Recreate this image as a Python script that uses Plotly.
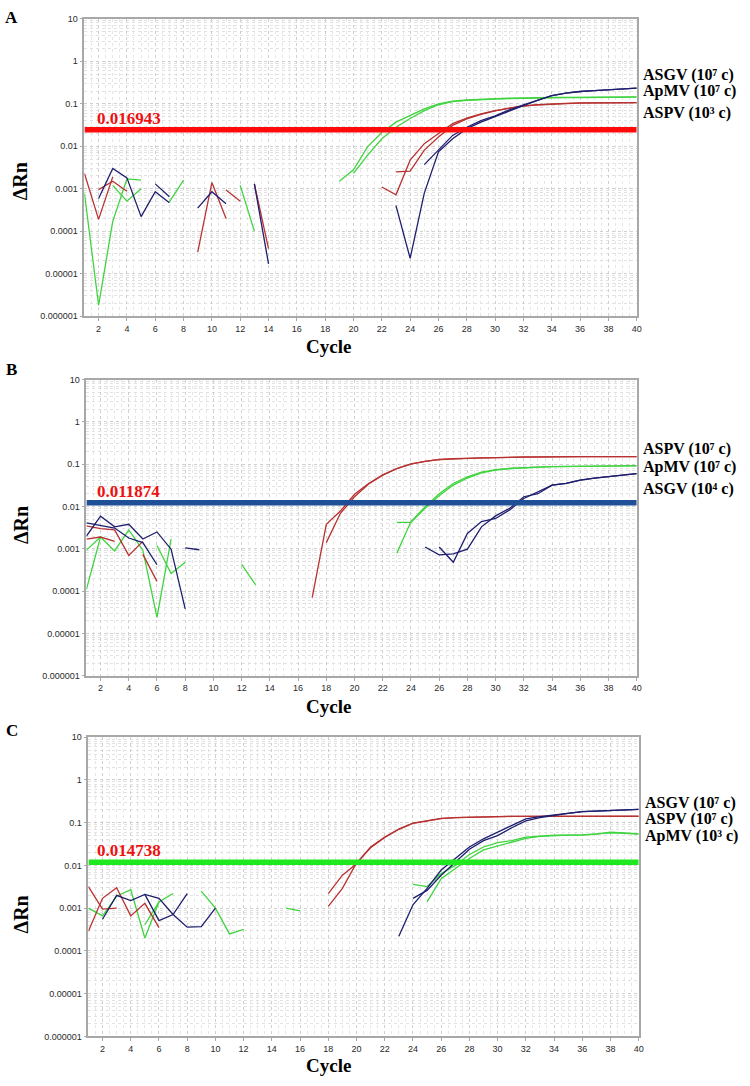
import plotly.graph_objects as go

W, H = 750, 1086

# ---------------- DATA (cycle start, ΔRn values) ----------------
# Panel A
A_ASGV = [(2, [0.00059, 0.003, 0.0018, 0.00022, 0.00085, 0.00047]),
          (6, [0.0013, 0.00065]),
          (9, [0.00035, 0.00085, 0.00044]),
          (13, [0.0013, 1.7e-5]),
          (23, [0.0004, 2.3e-5, 0.00079, 0.0074, 0.015, 0.026, 0.037, 0.05, 0.069, 0.091,
                0.12, 0.155, 0.178, 0.195, 0.204, 0.214, 0.224, 0.234]),
          (25, [0.0037, 0.0081, 0.018, 0.028, 0.04, 0.052, 0.072, 0.095, 0.123, 0.155,
                0.178, 0.195, 0.204, 0.214, 0.224, 0.234])]
A_ApMV = [(1, [0.00078, 1.8e-6, 0.00017, 0.0017, 0.0016]),
          (3, [0.0012, 0.00051, 0.001]),
          (7, [0.00049, 0.0016]),
          (12, [0.0012, 0.0001]),
          (19, [0.0015, 0.0028, 0.0098, 0.021, 0.037, 0.052, 0.076, 0.1, 0.115, 0.123, 0.129,
                0.132, 0.135, 0.138, 0.138, 0.141, 0.141, 0.141, 0.145, 0.145, 0.145, 0.145]),
          (20, [0.0023, 0.0062, 0.015, 0.028, 0.045, 0.069, 0.095, 0.112, 0.12, 0.126, 0.129,
                0.132, 0.135, 0.137, 0.138, 0.14, 0.14, 0.141, 0.142, 0.142, 0.143])]
A_ASPV = [(1, [0.0023, 0.00019, 0.0019]),
          (2, [0.00095, 0.0015, 0.00087]),
          (9, [3.2e-5, 0.0014, 0.0002]),
          (11, [0.00093, 0.00051]),
          (13, [0.0013, 3.9e-5]),
          (22, [0.0011, 0.00072, 0.0047, 0.0115, 0.02, 0.034, 0.046, 0.058, 0.069, 0.079,
                0.089, 0.095, 0.1, 0.102, 0.105, 0.105, 0.107, 0.107, 0.107]),
          (23, [0.0025, 0.0026, 0.0081, 0.0166, 0.031, 0.044, 0.056, 0.068, 0.079, 0.088,
                0.094, 0.099, 0.101, 0.104, 0.105, 0.106, 0.106, 0.107])]

# Panel B
B_ASGV = [(1, [0.002, 0.0059, 0.0033, 0.0038, 0.0017, 0.0025, 0.00098, 3.8e-5]),
          (1, [0.0041, 0.0035, 0.0031, 0.0018, 0.0014, 0.00042]),
          (8, [0.00105, 0.00095]),
          (25, [0.0011, 0.00072, 0.00076, 0.00098, 0.0033, 0.006, 0.0091, 0.017, 0.02, 0.032,
                0.035, 0.042, 0.047, 0.05, 0.055, 0.06]),
          (26, [0.0011, 0.00048, 0.0023, 0.0044, 0.0052, 0.0083, 0.0155, 0.022, 0.032, 0.035,
                0.042, 0.047, 0.05, 0.055, 0.06])]
B_ApMV = [(1, [0.00011, 0.0019, 0.00089, 0.0028, 0.00093, 2.4e-5, 0.0017]),
          (1, [0.00093, 0.0019]),
          (6, [0.0012, 0.00026, 0.00048]),
          (12, [0.00043, 0.00014]),
          (23, [0.00079, 0.0044, 0.0098, 0.02, 0.035, 0.05, 0.065, 0.074, 0.079, 0.083, 0.085,
                0.087, 0.089, 0.089, 0.089, 0.091, 0.091, 0.091]),
          (23, [0.0042, 0.0042, 0.0091, 0.018, 0.032, 0.047, 0.062, 0.072, 0.079, 0.083, 0.085,
                0.087, 0.088, 0.089, 0.09, 0.09, 0.091, 0.092])]
B_ASPV = [(1, [0.0017, 0.0019, 0.0015]),
          (1, [0.0035, 0.003, 0.0028, 0.0007, 0.0015]),
          (5, [0.00074, 0.00017]),
          (17, [7e-5, 0.0038, 0.0078, 0.0195, 0.035, 0.056, 0.079, 0.102, 0.117, 0.129, 0.135,
                0.138, 0.141, 0.144, 0.144, 0.148, 0.148, 0.151, 0.148, 0.151, 0.151, 0.151,
                0.151, 0.151]),
          (18, [0.0014, 0.0069, 0.017, 0.034, 0.055, 0.078, 0.1, 0.116, 0.128, 0.134, 0.138,
                0.141, 0.143, 0.145, 0.147, 0.149, 0.15, 0.149, 0.15, 0.151, 0.15, 0.15, 0.15])]

# Panel C
C_ASGV = [(2, [0.00055, 0.002, 0.0015, 0.0021, 0.0017, 0.00071, 0.00036, 0.00037, 0.001]),
          (5, [0.0021, 0.00051, 0.00071, 0.0022]),
          (23, [0.00022, 0.0012, 0.0029, 0.0078, 0.0145, 0.027, 0.042, 0.06, 0.087, 0.123,
                0.138, 0.151, 0.166, 0.182, 0.186, 0.19, 0.2, 0.204]),
          (24, [0.0017, 0.0026, 0.0059, 0.012, 0.024, 0.038, 0.05, 0.076, 0.11, 0.132, 0.151,
                0.166, 0.182, 0.186, 0.19, 0.2, 0.204])]
C_ApMV = [(1, [0.001, 0.00066, 0.0019, 0.0027, 0.0002, 0.0014, 0.0022]),
          (5, [0.00041, 0.0014]),
          (9, [0.0025, 0.001, 0.00025, 0.00032]),
          (15, [0.001, 0.00087]),
          (24, [0.0036, 0.0032, 0.0065, 0.01, 0.018, 0.027, 0.034, 0.038, 0.046, 0.049, 0.051,
                0.051, 0.051, 0.054, 0.06, 0.058, 0.055]),
          (25, [0.0014, 0.0049, 0.0085, 0.0145, 0.023, 0.028, 0.035, 0.043, 0.048, 0.05, 0.051,
                0.052, 0.055, 0.058, 0.056, 0.054])]
C_ASPV = [(1, [0.0032, 0.00095, 0.001]),
          (1, [0.00029, 0.0017, 0.003, 0.00066, 0.0013, 0.00035]),
          (18, [0.0022, 0.0059, 0.011, 0.027, 0.046, 0.071, 0.098, 0.112, 0.126, 0.132, 0.135,
                0.138, 0.14, 0.14, 0.141, 0.141, 0.142, 0.142, 0.142, 0.142, 0.143, 0.143, 0.143]),
          (18, [0.0011, 0.0029, 0.0115, 0.026, 0.045, 0.07, 0.097, 0.111, 0.125, 0.131, 0.135,
                0.137, 0.139, 0.14, 0.14, 0.14, 0.14, 0.14, 0.14, 0.14, 0.14, 0.14, 0.14])]

# thresholds: drawn position and printed value
threshold_pos = [0.0245, 0.0122, 0.0119]
threshold_text = ["0.016943", "0.011874", "0.014738"]

# right-side labels per panel (top to bottom)
A_labels = ["ASGV (10⁷ c)", "ApMV (10⁷ c)", "ASPV (10³ c)"]
B_labels = ["ASPV (10⁷ c)", "ApMV (10⁷ c)", "ASGV (10⁴ c)"]
C_labels = ["ASGV (10⁷ c)", "ASPV (10⁷ c)", "ApMV (10³ c)"]

panel_letters = ["A", "B", "C"]
x_ticks = list(range(2, 41, 2))
y_tickvals = [1e-6, 1e-5, 1e-4, 1e-3, 1e-2, 1e-1, 1, 10]
y_ticktext = ["0.000001", "0.00001", "0.0001", "0.001", "0.01", "0.1", "1", "10"]

# ---------------- STYLE / LAYOUT ----------------
COL_ASGV = "#1e1e6e"
COL_ApMV = "#3fd43f"
COL_ASPV = "#b83232"
thr_colors = ["#ff0a0a", "#1f4f96", "#1ee81e"]

# panel pixel boxes: left, right, top, bottom
boxes = [(85, 641, 14, 314), (87, 641, 378, 677), (89, 643, 739, 1041)]
label_y = [(71, 87, 109), (448, 466, 488), (805, 822, 839)]
label_x = [645, 645, 647]
thr_label_y = [115, 491, 853]
ylab_y = [178, 525, 918]
cycle_y = [345, 708, 1070]
letter_y = [13, 368, 732]

def px(x, y):
    return x / W, 1 - y / H

fig = go.Figure()
panels = [(A_ASGV, A_ApMV, A_ASPV, A_labels),
          (B_ASGV, B_ApMV, B_ASPV, B_labels),
          (C_ASGV, C_ApMV, C_ASPV, C_labels)]

annotations = []
for i, (sg, ap, sp, labels) in enumerate(panels):
    sfx = "" if i == 0 else str(i + 1)
    xa, ya = "x" + sfx, "y" + sfx
    for segs, col in ((ap, COL_ApMV), (sp, COL_ASPV), (sg, COL_ASGV)):
        for start, vals in segs:
            fig.add_trace(go.Scatter(
                x=list(range(start, start + len(vals))), y=vals, mode="lines",
                line=dict(color=col, width=1.3), xaxis=xa, yaxis=ya,
                showlegend=False, hoverinfo="skip"))
    fig.add_trace(go.Scatter(
        x=[1, 40], y=[threshold_pos[i]] * 2, mode="lines",
        line=dict(color=thr_colors[i], width=5.5), xaxis=xa, yaxis=ya,
        showlegend=False, hoverinfo="skip", cliponaxis=False))

    l, r, t, b = boxes[i]
    grid = dict(showgrid=True, gridcolor="#d0d0d0", griddash="dot", gridwidth=1,
                showline=True, linecolor="#a8a8a8", linewidth=1.5, mirror=True,
                ticks="outside", ticklen=3, tickcolor="#a8a8a8", zeroline=False,
                tickfont=dict(family="Liberation Sans, Arial", size=9, color="#2a2a2a"))
    fig.layout["xaxis" + sfx] = dict(
        domain=[l / W, r / W], anchor=ya, range=[1, 40],
        tickmode="array", tickvals=x_ticks,
        minor=dict(showgrid=True, gridcolor="#e6e6e6", griddash="dot", dtick=0.5, ticks=""),
        **grid)
    fig.layout["yaxis" + sfx] = dict(
        domain=[1 - b / H, 1 - t / H], anchor=xa, type="log", range=[-6, 1],
        tickmode="array", tickvals=y_tickvals, ticktext=y_ticktext,
        minor=dict(showgrid=True, gridcolor="#e2e2e2", griddash="dot", dtick="D1", ticks=""),
        **grid)

    serif = dict(family="Liberation Serif, Times New Roman", color="black")
    # right labels
    for txt, yy in zip(labels, label_y[i]):
        x0, y0 = px(label_x[i], yy)
        annotations.append(dict(text="<b>" + txt + "</b>", x=x0, y=y0, xref="paper", yref="paper",
                                xanchor="left", yanchor="middle", showarrow=False,
                                font=dict(size=16, **serif)))
    # threshold label
    x0, y0 = px(96, thr_label_y[i])
    annotations.append(dict(text="<b>" + threshold_text[i] + "</b>", x=x0, y=y0, xref="paper",
                            yref="paper", xanchor="left", yanchor="middle", showarrow=False,
                            font=dict(size=17, family="Liberation Serif, Times New Roman",
                                      color="#ee1111")))
    # y title
    x0, y0 = px(21, ylab_y[i])
    annotations.append(dict(text="<b>ΔRn</b>", x=x0, y=y0, xref="paper", yref="paper",
                            xanchor="center", yanchor="middle", textangle=-90, showarrow=False,
                            font=dict(size=20, **serif)))
    # x title
    x0, y0 = px(331, cycle_y[i])
    annotations.append(dict(text="<b>Cycle</b>", x=x0, y=y0, xref="paper", yref="paper",
                            xanchor="center", yanchor="middle", showarrow=False,
                            font=dict(size=19, **serif)))
    # panel letter
    x0, y0 = px(12, letter_y[i])
    annotations.append(dict(text="<b>" + panel_letters[i] + "</b>", x=x0, y=y0, xref="paper",
                            yref="paper", xanchor="center", yanchor="middle", showarrow=False,
                            font=dict(size=17, **serif)))

fig.update_layout(width=W, height=H, autosize=False,
                  margin=dict(l=0, r=0, t=0, b=0),
                  paper_bgcolor="white", plot_bgcolor="white",
                  annotations=annotations, showlegend=False)

fig.write_html("out.html", config={"displayModeBar": False},
               post_script="document.body.style.margin='0';document.body.style.padding='0';")
